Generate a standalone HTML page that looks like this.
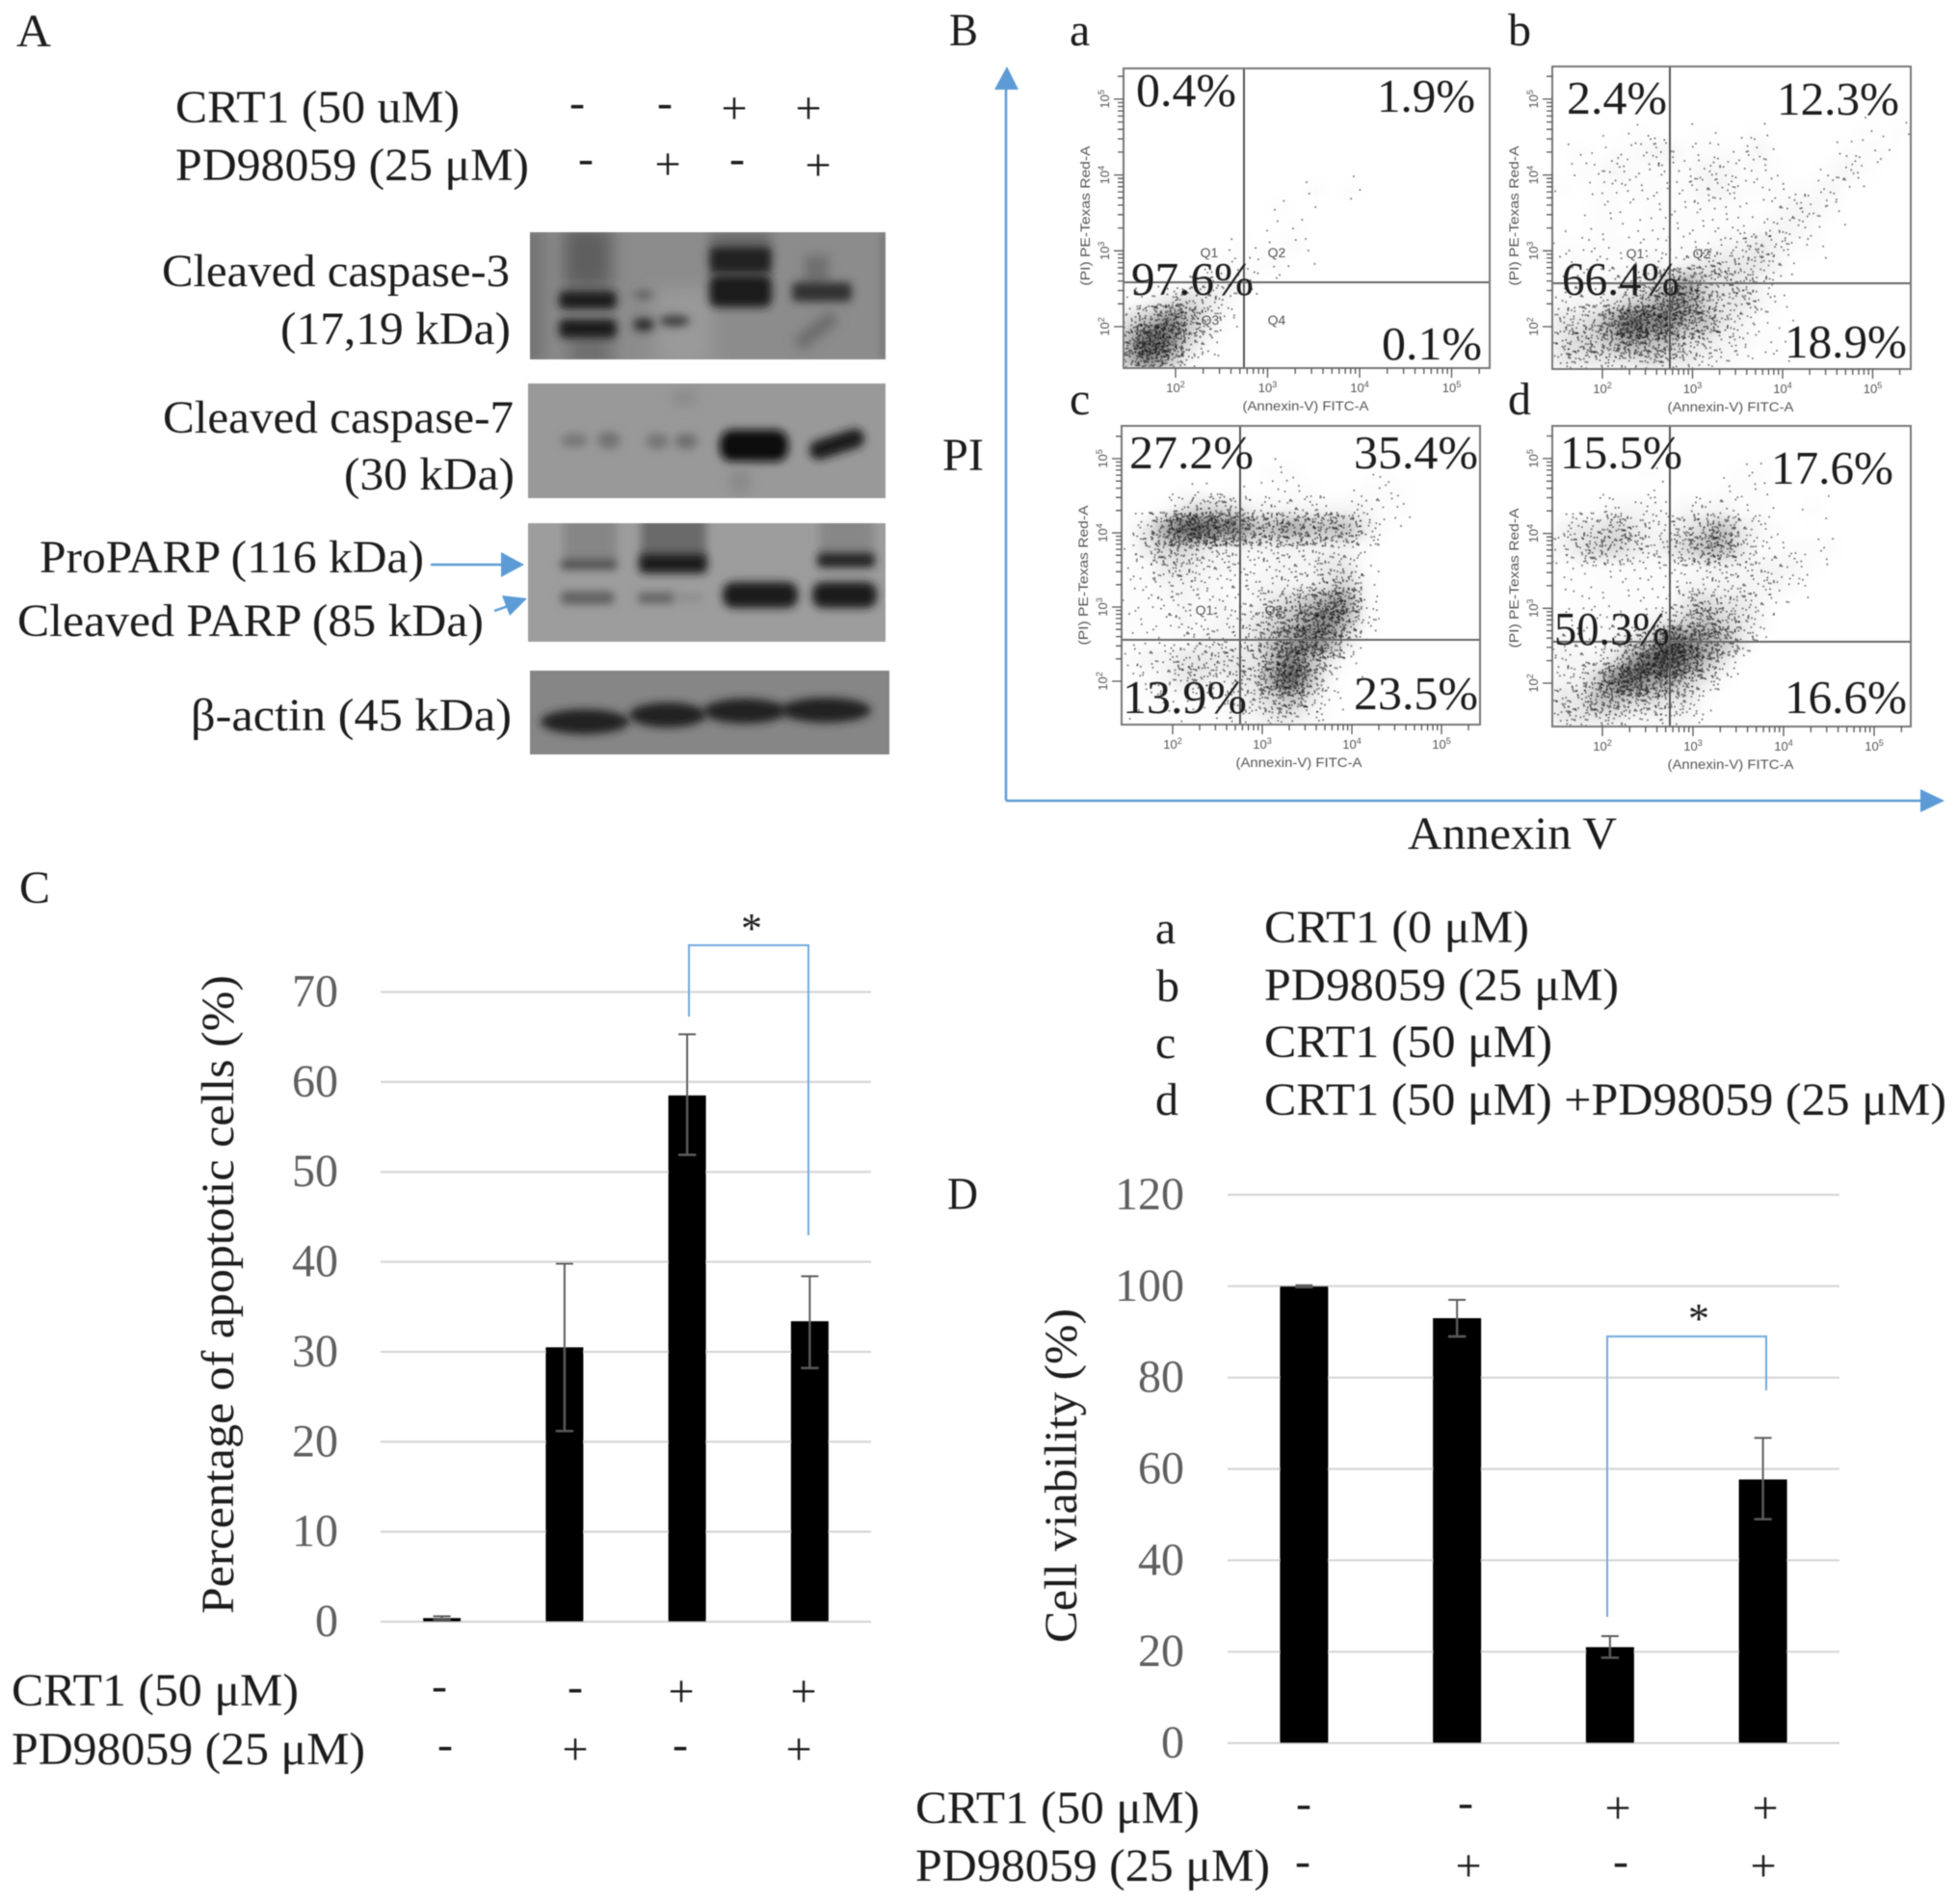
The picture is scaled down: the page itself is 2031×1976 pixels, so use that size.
<!DOCTYPE html>
<html lang="en">
<head>
<meta charset="utf-8">
<title>CRT1 and PD98059 apoptosis figure</title>
<style>
html,body{margin:0;padding:0;background:#fff}
svg{display:block}
text{font-family:"Liberation Serif","Noto Serif CJK SC",serif;fill:#1c1c1c;font-size:48px}
.big{font-size:48px}
.sign{font-size:48px;text-anchor:middle}
.tick{font-size:48px;fill:#5f5f5f;text-anchor:end}
.flow{font-family:"Liberation Sans",sans-serif;font-size:14px;fill:#555}
.pct{font-size:49px}
</style>
</head>
<body>
<svg xmlns="http://www.w3.org/2000/svg" width="2031" height="1976" viewBox="0 0 2031 1976">
<defs>
  <filter id="soft" x="-2%" y="-2%" width="104%" height="104%"><feGaussianBlur stdDeviation="0.6"/></filter>
  <filter id="b2" filterUnits="userSpaceOnUse" x="500" y="200" width="480" height="620"><feGaussianBlur stdDeviation="4.5"/></filter>
  <filter id="b4" filterUnits="userSpaceOnUse" x="500" y="200" width="480" height="620"><feGaussianBlur stdDeviation="6"/></filter>
  <filter id="b8" filterUnits="userSpaceOnUse" x="500" y="200" width="480" height="620"><feGaussianBlur stdDeviation="9"/></filter>
  <filter id="flow-haze" x="-15%" y="-15%" width="130%" height="130%"><feGaussianBlur stdDeviation="7"/></filter>
  <clipPath id="clip1"><rect x="550" y="241" width="369" height="132"/></clipPath>
  <clipPath id="clip2"><rect x="548" y="398" width="371" height="119"/></clipPath>
  <clipPath id="clip3"><rect x="548" y="543" width="371" height="123"/></clipPath>
  <clipPath id="clip4"><rect x="550" y="696" width="373" height="87"/></clipPath>
</defs>
<g filter="url(#soft)">

<!-- PANEL A -->
<g>
  <text x="17" y="48" textLength="36" lengthAdjust="spacingAndGlyphs">A</text>
  <text x="182" y="127" textLength="295" lengthAdjust="spacingAndGlyphs">CRT1 (50 uM)</text>
  <text x="182" y="187" textLength="367" lengthAdjust="spacingAndGlyphs">PD98059 (25 μM)</text>
  <g>
    <text class="sign" x="599" y="122">-</text>
    <text class="sign" x="690" y="122">-</text>
    <text class="sign" x="762" y="128">+</text>
    <text class="sign" x="839" y="128">+</text>
    <text class="sign" x="608" y="180">-</text>
    <text class="sign" x="693" y="186">+</text>
    <text class="sign" x="765" y="180">-</text>
    <text class="sign" x="849" y="187">+</text>
  </g>
  <text x="168" y="297" textLength="361" lengthAdjust="spacingAndGlyphs">Cleaved caspase-3</text>
  <text x="291" y="357" textLength="239" lengthAdjust="spacingAndGlyphs">(17,19 kDa)</text>
  <text x="169" y="449" textLength="364" lengthAdjust="spacingAndGlyphs">Cleaved caspase-7</text>
  <text x="357" y="508" textLength="177" lengthAdjust="spacingAndGlyphs">(30 kDa)</text>
  <text x="41" y="594" textLength="399" lengthAdjust="spacingAndGlyphs">ProPARP (116 kDa)</text>
  <text x="18" y="660" textLength="484" lengthAdjust="spacingAndGlyphs">Cleaved PARP (85 kDa)</text>
  <text x="198" y="758" textLength="333" lengthAdjust="spacingAndGlyphs">β-actin (45 kDa)</text>

  <g>
    <line x1="447" y1="586" x2="522" y2="586" stroke="#5b9bd5" stroke-width="2.5"/>
    <polygon points="520,573 544,586 520,599" fill="#5b9bd5"/>
  </g>
  <g>
    <line x1="513" y1="634" x2="530" y2="628" stroke="#5b9bd5" stroke-width="2.5"/>
    <polygon points="521,618 547,621 529,639" fill="#5b9bd5"/>
  </g>

  <g>
    <rect x="550" y="241" width="369" height="132" fill="#8c8c8c"/>
    <g clip-path="url(#clip1)">
      <rect x="540" y="235" width="25" height="145" fill="#727272" filter="url(#b8)"/>
      <rect x="585" y="235" width="50" height="65" fill="#5e5e5e" filter="url(#b8)"/>
      <rect x="590" y="350" width="45" height="30" fill="#6c6c6c" filter="url(#b8)"/>
      <rect x="680" y="300" width="60" height="80" fill="#9a9a9a" filter="url(#b8)"/>
      <rect x="737" y="240" width="63" height="20" fill="#6b6b6b" filter="url(#b4)"/>
      <rect x="835" y="265" width="25" height="30" fill="#6e6e6e" filter="url(#b4)"/>
      <rect x="580" y="302" width="60" height="19" rx="6" fill="#1f1f1f" filter="url(#b2)"/>
      <rect x="580" y="331" width="60" height="20" rx="6" fill="#1f1f1f" filter="url(#b2)"/>
      <ellipse cx="668" cy="306" rx="10" ry="4" fill="#5a5a5a" filter="url(#b2)"/>
      <ellipse cx="668" cy="337" rx="11" ry="7" fill="#2e2e2e" filter="url(#b2)"/>
      <ellipse cx="700" cy="333" rx="16" ry="6" fill="#404040" filter="url(#b2)"/>
      <rect x="736" y="256" width="65" height="28" rx="6" fill="#202020" filter="url(#b2)"/>
      <rect x="736" y="285" width="65" height="34" rx="9" fill="#1c1c1c" filter="url(#b2)"/>
      <rect x="822" y="293" width="62" height="20" rx="5" fill="#303030" filter="url(#b2)"/>
      <line x1="828" y1="358" x2="866" y2="328" stroke="#696969" stroke-width="14" filter="url(#b4)"/>
      <rect x="914" y="241" width="8" height="132" fill="#777" filter="url(#b2)"/>
    </g>
  </g>

  <g>
    <rect x="548" y="398" width="371" height="119" fill="#999"/>
    <g clip-path="url(#clip2)">
      <ellipse cx="596" cy="457" rx="14" ry="7" fill="#767676" filter="url(#b2)"/>
      <ellipse cx="632" cy="457" rx="12" ry="9" fill="#727272" filter="url(#b2)"/>
      <ellipse cx="682" cy="458" rx="12" ry="8" fill="#757575" filter="url(#b2)"/>
      <ellipse cx="712" cy="458" rx="12" ry="8" fill="#6e6e6e" filter="url(#b2)"/>
      <ellipse cx="710" cy="413" rx="14" ry="8" fill="#8a8a8a" filter="url(#b4)"/>
      <rect x="747" y="446" width="71" height="33" rx="13" fill="#101010" filter="url(#b2)"/>
      <line x1="850" y1="467" x2="887" y2="455" stroke="#1a1a1a" stroke-width="20" stroke-linecap="round" filter="url(#b2)"/>
      <ellipse cx="768" cy="500" rx="12" ry="14" fill="#8a8a8a" filter="url(#b4)"/>
    </g>
  </g>

  <g>
    <rect x="548" y="543" width="371" height="123" fill="#9d9d9d"/>
    <g clip-path="url(#clip3)">
      <rect x="585" y="530" width="55" height="55" fill="#868686" filter="url(#b2)"/>
      <rect x="665" y="530" width="68" height="52" fill="#6b6b6b" filter="url(#b2)"/>
      <rect x="850" y="530" width="57" height="50" fill="#878787" filter="url(#b2)"/>
      <rect x="582" y="581" width="58" height="10" rx="3" fill="#4e4e4e" filter="url(#b2)"/>
      <rect x="663" y="575" width="71" height="20" rx="6" fill="#1a1a1a" filter="url(#b2)"/>
      <rect x="848" y="574" width="60" height="15" rx="5" fill="#242424" filter="url(#b2)"/>
      <rect x="582" y="614" width="55" height="13" rx="4" fill="#5e5e5e" filter="url(#b2)"/>
      <rect x="662" y="615" width="38" height="11" rx="4" fill="#626262" filter="url(#b2)"/>
      <rect x="700" y="617" width="30" height="7" rx="3" fill="#8a8a8a" filter="url(#b2)"/>
      <rect x="750" y="604" width="78" height="27" rx="11" fill="#1c1c1c" filter="url(#b2)"/>
      <rect x="843" y="604" width="67" height="27" rx="11" fill="#1c1c1c" filter="url(#b2)"/>
    </g>
  </g>

  <g>
    <rect x="550" y="696" width="373" height="87" fill="#868686"/>
    <g clip-path="url(#clip4)">
      <ellipse cx="607" cy="749" rx="46" ry="13" fill="#202020" filter="url(#b2)"/>
      <ellipse cx="693" cy="742" rx="40" ry="13" fill="#202020" filter="url(#b2)"/>
      <ellipse cx="773" cy="738" rx="43" ry="13" fill="#202020" filter="url(#b2)"/>
      <ellipse cx="857" cy="737" rx="47" ry="13" fill="#202020" filter="url(#b2)"/>
    </g>
  </g>
</g>

<!-- PANEL B -->
<g>
  <text x="985" y="47" textLength="30" lengthAdjust="spacingAndGlyphs">B</text>
  <text x="1110" y="47">a</text>
  <text x="1565" y="47">b</text>
  <text x="1110" y="430">c</text>
  <text x="1565" y="430">d</text>
  <g>
    <line x1="1044" y1="88" x2="1044" y2="831" stroke="#5b9bd5" stroke-width="2.5"/>
    <polygon points="1032,93 1045,69 1057,93" fill="#5b9bd5"/>
  </g>
  <g>
    <line x1="1044" y1="831" x2="1996" y2="831" stroke="#5b9bd5" stroke-width="2.5"/>
    <polygon points="1993,819 2018,831 1993,843" fill="#5b9bd5"/>
  </g>
  <text x="978" y="488" textLength="43" lengthAdjust="spacingAndGlyphs">PI</text>
  <text x="1461" y="881" textLength="217" lengthAdjust="spacingAndGlyphs">Annexin V</text>

  <g id="flow-a"></g>
  <g id="flow-b"></g>
  <g id="flow-c"></g>
  <g id="flow-d"></g>

  <g>
    <text class="flow" x="1255" y="267" text-anchor="middle">Q1</text>
    <text class="flow" x="1325" y="267" text-anchor="middle">Q2</text>
    <text class="flow" x="1256" y="337" text-anchor="middle">Q3</text>
    <text class="flow" x="1325" y="337" text-anchor="middle">Q4</text>
    <text class="flow" x="1697" y="268" text-anchor="middle">Q1</text>
    <text class="flow" x="1766" y="268" text-anchor="middle">Q2</text>
    <text class="flow" x="1250" y="638" text-anchor="middle">Q1</text>
    <text class="flow" x="1322" y="638" text-anchor="middle">Q2</text>
  </g>

  <g>
    <text class="pct" x="1179" y="110" textLength="104" lengthAdjust="spacingAndGlyphs">0.4%</text>
    <text class="pct" x="1429" y="116" textLength="102" lengthAdjust="spacingAndGlyphs">1.9%</text>
    <text class="pct" x="1174" y="306" textLength="127" lengthAdjust="spacingAndGlyphs">97.6%</text>
    <text class="pct" x="1434" y="373" textLength="104" lengthAdjust="spacingAndGlyphs">0.1%</text>
    <text class="pct" x="1626" y="118" textLength="104" lengthAdjust="spacingAndGlyphs">2.4%</text>
    <text class="pct" x="1844" y="119" textLength="127" lengthAdjust="spacingAndGlyphs">12.3%</text>
    <text class="pct" x="1621" y="306" textLength="122" lengthAdjust="spacingAndGlyphs">66.4%</text>
    <text class="pct" x="1852" y="371" textLength="127" lengthAdjust="spacingAndGlyphs">18.9%</text>
    <text class="pct" x="1172" y="486" textLength="129" lengthAdjust="spacingAndGlyphs">27.2%</text>
    <text class="pct" x="1405" y="486" textLength="129" lengthAdjust="spacingAndGlyphs">35.4%</text>
    <text class="pct" x="1165" y="740" textLength="129" lengthAdjust="spacingAndGlyphs">13.9%</text>
    <text class="pct" x="1405" y="736" textLength="129" lengthAdjust="spacingAndGlyphs">23.5%</text>
    <text class="pct" x="1619" y="486" textLength="127" lengthAdjust="spacingAndGlyphs">15.5%</text>
    <text class="pct" x="1838" y="502" textLength="127" lengthAdjust="spacingAndGlyphs">17.6%</text>
    <text class="pct" x="1613" y="669" textLength="120" lengthAdjust="spacingAndGlyphs">50.3%</text>
    <text class="pct" x="1852" y="740" textLength="127" lengthAdjust="spacingAndGlyphs">16.6%</text>
  </g>
</g>

<!-- PANEL C -->
<g>
  <text x="20" y="937" textLength="32" lengthAdjust="spacingAndGlyphs">C</text>
  <text transform="translate(242,1675) rotate(-90)" textLength="663" lengthAdjust="spacingAndGlyphs">Percentage of apoptotic cells (%)</text>
  <g id="chart-c"></g>
  <g>
    <polyline points="715,1055 715,981 839,981 839,1282" fill="none" stroke="#6fa8dc" stroke-width="2"/>
    <text x="780" y="978" text-anchor="middle" style="font-size:44px">*</text>
  </g>
  <text x="12" y="1770" textLength="298" lengthAdjust="spacingAndGlyphs">CRT1 (50 μM)</text>
  <text x="12" y="1831" textLength="367" lengthAdjust="spacingAndGlyphs">PD98059 (25 μM)</text>
  <g>
    <text class="sign" x="456" y="1765">-</text>
    <text class="sign" x="597" y="1766">-</text>
    <text class="sign" x="707" y="1771">+</text>
    <text class="sign" x="834" y="1771">+</text>
    <text class="sign" x="462" y="1826">-</text>
    <text class="sign" x="597" y="1831">+</text>
    <text class="sign" x="706" y="1826">-</text>
    <text class="sign" x="829" y="1831">+</text>
  </g>
</g>

<!-- LEGEND -->
<g>
  <text x="1199" y="979">a</text>
  <text x="1200" y="1039">b</text>
  <text x="1199" y="1098">c</text>
  <text x="1199" y="1157">d</text>
  <text x="1312" y="978" textLength="275" lengthAdjust="spacingAndGlyphs">CRT1 (0 μM)</text>
  <text x="1312" y="1038" textLength="368" lengthAdjust="spacingAndGlyphs">PD98059 (25 μM)</text>
  <text x="1312" y="1097" textLength="299" lengthAdjust="spacingAndGlyphs">CRT1 (50 μM)</text>
  <text x="1312" y="1157" textLength="708" lengthAdjust="spacingAndGlyphs">CRT1 (50 μM) +PD98059 (25 μM)</text>
</g>

<!-- PANEL D -->
<g>
  <text x="983" y="1255" textLength="32" lengthAdjust="spacingAndGlyphs">D</text>
  <text transform="translate(1117,1705) rotate(-90)" textLength="347" lengthAdjust="spacingAndGlyphs">Cell viability (%)</text>
  <g id="chart-d"></g>
  <g>
    <polyline points="1668,1678 1668,1387 1833,1387 1833,1443" fill="none" stroke="#6fa8dc" stroke-width="2"/>
    <text x="1763" y="1383" text-anchor="middle" style="font-size:44px">*</text>
  </g>
  <text x="950" y="1892" textLength="295" lengthAdjust="spacingAndGlyphs">CRT1 (50 μM)</text>
  <text x="950" y="1952" textLength="368" lengthAdjust="spacingAndGlyphs">PD98059 (25 μM)</text>
  <g>
    <text class="sign" x="1353" y="1887">-</text>
    <text class="sign" x="1521" y="1886">-</text>
    <text class="sign" x="1679" y="1892">+</text>
    <text class="sign" x="1832" y="1892">+</text>
    <text class="sign" x="1352" y="1947">-</text>
    <text class="sign" x="1524" y="1952">+</text>
    <text class="sign" x="1682" y="1947">-</text>
    <text class="sign" x="1830" y="1952">+</text>
  </g>
</g>
</g>
</svg>

<script>
// ---- Bar chart data ----
const apoptosisCategories = ['control', 'pd98059', 'crt1', 'crt1-pd98059'];
const apoptosisValues = [0.4, 30.5, 58.5, 33.4];
const apoptosisErrorLow = [0.2, 21.2, 51.9, 28.2];
const apoptosisErrorHigh = [0.6, 39.8, 65.3, 38.4];
const apoptosisTicks = [0, 10, 20, 30, 40, 50, 60, 70];

const viabilityCategories = ['control', 'pd98059', 'crt1', 'crt1-pd98059'];
const viabilityValues = [100, 93, 21, 57.7];
const viabilityErrorLow = [99.8, 89, 18.7, 49];
const viabilityErrorHigh = [100.2, 97, 23.4, 66.8];
const viabilityTicks = [0, 20, 40, 60, 80, 100, 120];

// ---- Flow cytometry event density, estimated by eye per 20x16 plot cell (0 empty .. 9 solid) ----
const densityA = [
[0,0,0,0,0,0,0,0,0,0,0,0,0,0,0,0,0,0,0,0],
[0,0,0,0,0,0,0,0,0,0,0,0,0,0,0,0,0,0,0,0],
[0,0,0,0,0,0,0,0,0,0,0,0,0,0,0,0,0,0,0,0],
[0,0,0,0,0,0,0,0,0,0,0,0,0,0,0,0,0,0,0,0],
[0,0,0,0,0,0,0,0,0,0,0,0,0,0,0,0,0,0,0,0],
[0,0,0,0,0,0,0,0,0,0,0,0,0,0,0,0,0,0,0,0],
[0,0,0,0,0,0,0,0,0,0,1,0,1,0,0,0,0,0,0,0],
[0,0,0,0,0,0,0,0,1,0,0,0,0,0,0,0,0,0,0,0],
[0,0,0,0,0,0,0,0,0,1,0,0,0,0,0,0,0,0,0,0],
[0,0,0,0,0,0,1,0,1,1,0,0,0,0,0,0,0,0,0,0],
[0,0,0,0,0,1,1,1,1,0,0,0,0,0,0,0,0,0,0,0],
[0,0,0,1,2,2,2,0,0,0,0,0,0,0,0,0,0,0,0,0],
[1,2,3,4,3,2,0,0,0,0,0,0,0,0,0,0,0,0,0,0],
[4,5,7,5,3,1,0,0,0,0,0,0,0,0,0,0,0,0,0,0],
[6,8,7,4,2,0,0,0,0,0,0,0,0,0,0,0,0,0,0,0],
[6,7,5,2,0,0,0,0,0,0,0,0,0,0,0,0,0,0,0,0]
];
const densityB = [
[0,0,0,0,0,0,0,0,0,0,0,0,0,0,0,0,0,0,0,0],
[0,0,0,0,0,0,0,0,0,0,0,0,0,0,0,0,0,0,0,0],
[0,0,0,0,0,0,0,0,0,0,0,0,0,0,0,0,0,0,0,0],
[0,0,0,0,1,0,0,0,1,0,0,1,0,0,0,0,0,1,0,1],
[0,1,0,1,1,2,2,1,1,1,1,2,0,0,0,0,1,1,1,0],
[0,1,1,2,1,1,1,1,2,2,1,1,1,0,0,1,2,1,0,0],
[1,0,1,1,1,1,1,1,2,2,1,1,1,1,1,2,0,0,0,0],
[0,0,1,1,0,1,1,1,1,1,1,0,1,2,2,1,0,0,0,0],
[0,0,1,1,0,1,1,1,1,1,1,1,2,2,1,0,0,0,0,0],
[1,1,1,1,1,1,1,1,1,2,2,3,2,1,1,0,0,0,0,0],
[1,1,1,1,1,2,1,2,3,3,3,3,2,0,0,0,0,0,0,0],
[1,1,1,2,2,3,5,6,4,3,3,2,1,0,0,0,0,0,0,0],
[2,2,2,3,4,5,6,6,4,3,3,2,1,0,0,0,0,0,0,0],
[3,3,4,6,8,7,7,5,5,3,2,1,0,0,0,0,0,0,0,0],
[3,4,4,5,6,5,5,3,3,2,2,1,1,0,0,0,0,0,0,0],
[3,3,3,3,3,4,3,3,2,2,1,0,1,0,0,0,0,0,0,0]
];
const densityC = [
[0,0,0,0,0,0,0,0,0,0,0,0,0,0,0,0,0,0,0,0],
[0,0,0,0,0,0,0,0,0,0,0,0,0,0,0,0,0,0,0,0],
[0,0,0,0,0,0,0,0,1,1,0,0,0,0,1,0,0,0,0,0],
[0,0,0,1,1,0,1,0,1,1,1,0,0,1,1,1,0,0,0,0],
[0,0,1,3,4,4,3,2,2,2,2,2,2,2,1,1,0,0,0,0],
[1,3,6,8,8,7,7,5,5,6,5,5,5,3,1,0,0,0,0,0],
[1,3,4,4,3,2,2,2,2,2,2,2,2,1,0,0,0,0,0,0],
[1,1,3,3,2,2,2,1,2,2,2,3,3,1,0,0,0,0,0,0],
[1,1,2,2,2,1,1,2,2,2,2,3,4,2,0,0,0,0,0,0],
[1,1,1,2,1,2,1,2,3,4,5,6,6,2,0,0,0,0,0,0],
[1,1,1,2,1,2,2,3,4,5,6,7,5,2,0,0,0,0,0,0],
[1,1,1,1,2,2,2,3,5,6,7,6,3,0,0,0,0,0,0,0],
[1,2,2,3,3,3,3,3,5,7,5,3,1,0,0,0,0,0,0,0],
[1,1,2,3,3,2,3,3,6,8,5,2,0,0,0,0,0,0,0,0],
[0,1,1,1,1,1,2,3,4,5,3,1,0,0,0,0,0,0,0,0],
[1,0,1,1,1,1,2,2,3,3,2,1,0,0,0,0,0,0,0,0]
];
const densityD = [
[0,0,0,0,0,0,0,0,0,0,0,0,0,0,0,0,0,0,0,0],
[0,0,0,0,0,0,0,0,0,0,0,0,0,0,0,0,0,0,0,0],
[0,0,0,0,0,1,0,0,0,0,1,1,0,0,0,0,0,0,0,0],
[0,0,0,0,0,0,0,0,0,1,1,1,0,0,0,0,0,0,0,0],
[0,0,1,2,2,2,1,2,2,2,1,1,0,0,1,0,0,0,0,0],
[2,3,3,4,3,2,2,3,4,5,3,2,1,0,0,0,0,0,0,0],
[2,3,4,4,3,2,3,4,5,5,3,1,1,1,1,1,0,0,0,0],
[0,1,1,1,1,1,1,1,2,2,2,2,2,2,1,0,0,0,0,0],
[1,0,1,1,1,1,1,2,2,2,2,2,2,1,0,0,0,0,0,0],
[0,1,1,1,1,1,1,3,4,3,3,2,0,0,0,0,0,0,0,0],
[1,1,1,1,1,2,3,4,5,4,3,2,0,0,0,0,0,0,0,0],
[2,1,1,2,3,4,8,7,6,5,3,0,0,0,0,0,0,0,0,0],
[2,2,2,3,6,8,8,7,5,3,0,0,0,0,0,0,0,0,0,0],
[2,2,4,7,8,6,6,4,3,1,0,0,0,0,0,0,0,0,0,0],
[3,3,5,5,4,4,3,3,1,0,0,0,0,0,0,0,0,0,0,0],
[3,3,3,3,2,2,2,2,1,0,0,0,0,0,0,0,0,0,0,0]
];
const flowDecades = [2, 3, 4, 5];
const flowMinorSteps = [2, 3, 4, 5, 6, 7, 8, 9];

var NS = 'http://www.w3.org/2000/svg';
function svgEl(tag, attrs, parent) {
  var e = document.createElementNS(NS, tag);
  for (var k in attrs) { e.setAttribute(k, attrs[k]); }
  if (parent) { parent.appendChild(e); }
  return e;
}

// ---- Bar charts ----
function drawBarChart(rootId, opts) {
  var root = document.getElementById(rootId);
  var yScale = function (v) { return opts.y0 - (v / opts.yMax) * (opts.y0 - opts.yTop); };
  var band = (opts.x1 - opts.x0) / opts.categories.length;
  var xScale = function (i) { return opts.x0 + band * (i + 0.5); };

  opts.ticks.forEach(function (t) {
    var y = yScale(t);
    var line = svgEl('line', { x1: opts.x0, x2: opts.x1, y1: y, y2: y, stroke: '#d6d6d6', 'stroke-width': 2.2 }, root);
    
    
    var lab = svgEl('text', { x: opts.labelX, y: y + 15, class: 'tick' }, root);
    lab.textContent = String(t);
    
    
  });

  opts.values.forEach(function (v, i) {
    var cx = xScale(i);
    var top = yScale(v);
    var bar = svgEl('rect', { x: cx - opts.barW / 2, y: top, width: opts.barW, height: opts.y0 - top, fill: '#000' }, root);
    
    

    var hi = yScale(opts.errHigh[i]);
    var lo = yScale(opts.errLow[i]);
    var err = svgEl('path', {
      d: 'M' + cx + ' ' + hi + 'V' + lo + 'M' + (cx - 9) + ' ' + hi + 'H' + (cx + 9) + 'M' + (cx - 9) + ' ' + lo + 'H' + (cx + 9),
      fill: 'none', stroke: '#5c5c5c', 'stroke-width': 2
    }, root);
    
    
  });
}

drawBarChart('chart-c', {
  categories: apoptosisCategories, values: apoptosisValues, errLow: apoptosisErrorLow, errHigh: apoptosisErrorHigh,
  ticks: apoptosisTicks, yMax: 70, y0: 1683, yTop: 1029.5, x0: 395, x1: 904, barW: 39, labelX: 351
});
drawBarChart('chart-d', {
  categories: viabilityCategories, values: viabilityValues, errLow: viabilityErrorLow, errHigh: viabilityErrorHigh,
  ticks: viabilityTicks, yMax: 120, y0: 1809, yTop: 1240, x0: 1274, x1: 1909, barW: 50, labelX: 1229
});

// ---- Flow cytometry plots ----
function drawFlow(rootId, grid, f) {
  var root = document.getElementById(rootId);
  var w = f.x1 - f.x0, h = f.y1 - f.y0;
  var rows = grid.length, cols = grid[0].length;
  var cw = w / cols, ch = h / rows;

  var clip = svgEl('clipPath', { id: rootId + '-clip' }, root);
  svgEl('rect', { x: f.x0, y: f.y0, width: w, height: h }, clip);
  var plot = svgEl('g', { 'clip-path': 'url(#' + rootId + '-clip)' }, root);
  
  

  // Soft shading under the stipple so dense regions read as smooth clouds.
  var haze = svgEl('g', { filter: 'url(#flow-haze)', fill: '#000' }, plot);
  
  
  var dots = svgEl('g', { fill: '#111', 'fill-opacity': 0.65 }, plot);
  
  

  grid.forEach(function (row, r) {
    row.forEach(function (d, c) {
      if (!d) { return; }
      var shade = svgEl('rect', { x: f.x0 + c * cw, y: f.y0 + r * ch, width: cw, height: ch, 'fill-opacity': (d * d / 81 * 0.8).toFixed(3) }, haze);
      
      

      // Each cell's value sets how many stipple dots it holds; dot placement is texture only.
      var n = Math.round(d * d * 2.2 + d * 0.8);
      var pu = (r * 0.3819 + c * 0.6180) % 1;
      var pv = (r * 0.7548 + c * 0.2451) % 1;
      var p = '';
      for (var i = 0; i < n; i++) {
        var u = (pu + i * 0.75488 + 0.43 * ((i * i * 0.1273) % 1)) % 1;
        var v = (pv + i * 0.56984 + 0.37 * ((i * i * 0.0817) % 1)) % 1;
        var x = f.x0 + (c - 0.4 + u * 1.8) * cw;
        var y = f.y0 + (r - 0.4 + v * 1.8) * ch;
        p += 'M' + x.toFixed(1) + ' ' + y.toFixed(1) + 'h1.6v1.6h-1.6z';
      }
      var cell = svgEl('path', { d: p }, dots);
      
      
    });
  });

  var vq = svgEl('line', { x1: f.qx, x2: f.qx, y1: f.y0, y2: f.y1, stroke: '#555', 'stroke-width': 2 }, root);
  
  
  var hq = svgEl('line', { x1: f.x0, x2: f.x1, y1: f.qy, y2: f.qy, stroke: '#666', 'stroke-width': 2 }, root);
  
  
  var frame = svgEl('rect', { x: f.x0, y: f.y0, width: w, height: h, fill: 'none', stroke: '#777', 'stroke-width': 2 }, root);
  
  

  var tickPath = '';
  flowDecades.forEach(function (dec, i) {
    var px = f.xd + i * f.xs;
    var py = f.yd - i * f.ys;
    tickPath += 'M' + px + ' ' + f.y1 + 'v10M' + (f.x0 - 10) + ' ' + py + 'h10';
    flowMinorSteps.forEach(function (m) {
      var frac = Math.log(m) / Math.LN10;
      var mx = px + frac * f.xs;
      var my = py - frac * f.ys;
      if (mx < f.x1) { tickPath += 'M' + mx.toFixed(1) + ' ' + f.y1 + 'v6'; }
      if (my > f.y0) { tickPath += 'M' + (f.x0 - 6) + ' ' + my.toFixed(1) + 'h6'; }
    });

    var xl = svgEl('text', { x: px, y: f.y1 + 25, class: 'flow', 'text-anchor': 'middle', style: 'font-size:13px' }, root);
    xl.textContent = '10';
    
    
    var xs = svgEl('tspan', { dy: -5, style: 'font-size:9px' }, xl);
    xs.textContent = String(dec);

    var yl = svgEl('text', { transform: 'translate(' + (f.x0 - 15) + ',' + py + ') rotate(-90)', class: 'flow', 'text-anchor': 'middle', style: 'font-size:13px' }, root);
    yl.textContent = '10';
    
    
    var ys = svgEl('tspan', { dy: -5, style: 'font-size:9px' }, yl);
    ys.textContent = String(dec);
  });
  var ticks = svgEl('path', { d: tickPath, stroke: '#555', 'stroke-width': 1.3, fill: 'none' }, root);
  
  

  var xt = svgEl('text', { x: f.xtx, y: f.y1 + 44, class: 'flow', 'text-anchor': 'middle', textLength: 131, lengthAdjust: 'spacingAndGlyphs' }, root);
  xt.textContent = '(Annexin-V) FITC-A';
  
  
  var yt = svgEl('text', { transform: 'translate(' + (f.x0 - 35) + ',' + f.yty + ') rotate(-90)', class: 'flow', 'text-anchor': 'middle', textLength: 145, lengthAdjust: 'spacingAndGlyphs' }, root);
  yt.textContent = '(PI) PE-Texas Red-A';
  
  
}

drawFlow('flow-a', densityA, { x0: 1166, x1: 1546, y0: 71, y1: 382, qx: 1291, qy: 293, xd: 1220, xs: 95.5, yd: 339, ys: 78.7, xtx: 1355, yty: 224 });
drawFlow('flow-b', densityB, { x0: 1611, x1: 1983, y0: 69, y1: 383, qx: 1733, qy: 294, xd: 1663, xs: 93.5, yd: 339, ys: 78.7, xtx: 1796, yty: 224 });
drawFlow('flow-c', densityC, { x0: 1164, x1: 1536, y0: 442, y1: 752, qx: 1287, qy: 664, xd: 1217, xs: 93, yd: 707, ys: 77, xtx: 1348, yty: 597 });
drawFlow('flow-d', densityD, { x0: 1611, x1: 1983, y0: 442, y1: 754, qx: 1733, qy: 666, xd: 1663, xs: 94, yd: 709, ys: 77.7, xtx: 1796, yty: 600 });
</script>
</body>
</html>
